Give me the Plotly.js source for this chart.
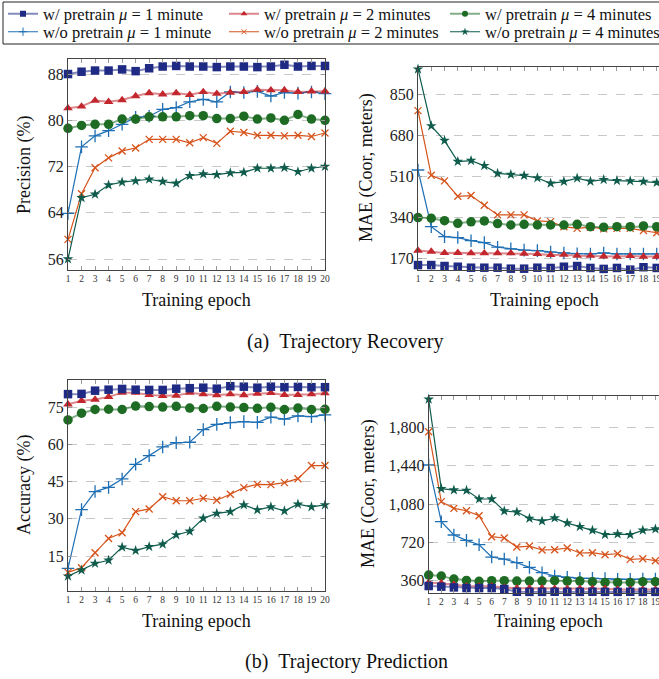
<!DOCTYPE html>
<html><head><meta charset="utf-8">
<script src="https://cdn.plot.ly/plotly-3.0.1.min.js"></script>
<style>html,body{margin:0;padding:0;overflow:hidden;background:#fff}#chart{width:700px;height:679px}</style>
</head><body><div id="chart"></div>
<script>
const epochs = [1,2,3,4,5,6,7,8,9,10,11,12,13,14,15,16,17,18,19,20];
const seriesNames = ['w/ pretrain <i>μ</i> = 1 minute','w/ pretrain <i>μ</i> = 2 minutes','w/ pretrain <i>μ</i> = 4 minutes',
  'w/o pretrain <i>μ</i> = 1 minute','w/o pretrain <i>μ</i> = 2 minutes','w/o pretrain <i>μ</i> = 4 minutes'];

// (a) Trajectory Recovery - Precision (%)
const rp_w1 = [88.0,88.4,88.6,88.6,88.8,88.5,89.0,89.3,89.4,89.3,89.3,89.2,89.3,89.3,89.2,89.3,89.6,89.3,89.4,89.4];
const rp_w2 = [82.1,82.4,83.4,83.2,83.5,84.2,84.7,84.5,84.7,84.4,84.9,84.6,84.8,84.9,85.3,85.2,85.2,84.9,85.0,85.0];
const rp_w4 = [78.6,79.1,79.3,79.3,80.2,80.2,80.6,80.6,80.6,80.8,80.8,80.3,80.3,80.7,80.2,80.4,80.0,81.0,80.2,80.0];
const rp_o1 = [63.9,75.4,77.3,78.2,79.3,80.5,80.7,81.9,82.2,83.2,83.6,83.2,84.9,84.8,85.0,84.2,84.8,84.7,84.9,84.6];
const rp_o2 = [59.4,67.3,71.8,73.5,74.7,75.2,76.7,76.7,76.7,76.1,77.0,76.0,78.1,77.9,77.4,77.4,77.3,77.4,77.2,77.8];
const rp_o4 = [56.0,66.6,67.2,68.8,69.3,69.5,69.8,69.4,69.1,70.4,70.7,70.6,70.9,71.0,71.7,71.7,71.8,71.1,71.7,72.0];

// (a) Trajectory Recovery - MAE (Coor, meters)
const rm_w1 = [142,142,138,135,131,131,131,127,127,131,130,135,138,130,126,130,123,133,130,130];
const rm_w2 = [202,198,192,193,191,191,191,191,189,188,184,185,181,181,178,177,180,177,177,177];
const rm_w4 = [339,336,326,315,321,325,314,308,311,308,308,308,311,301,299,301,301,304,301,300];
const rm_o1 = [536,301,260,256,243,235,216,209,204,202,196,192,189,188,192,188,188,188,188,188];
const rm_o2 = [782,514,491,427,430,390,350,350,350,325,322,301,294,299,292,294,294,285,276,272];
const rm_o4 = [954,719,658,571,575,554,522,517,513,503,481,488,502,489,496,492,491,488,484,483];

// (b) Trajectory Prediction - Accuracy (%)
const pa_w1 = [80.3,80.4,81.7,82.1,82.4,82.1,82.0,82.0,82.5,82.7,82.9,82.5,83.5,83.3,82.9,83.3,83.1,83.2,83.1,83.1];
const pa_w2 = [76.2,77.6,78.1,79.2,80.9,80.9,80.0,79.6,79.7,80.9,80.3,79.9,80.3,79.9,80.5,80.8,80.0,80.0,80.3,80.7];
const pa_w4 = [69.9,72.6,74.1,74.2,74.1,75.5,75.3,75.1,75.4,74.7,74.5,75.4,75.1,74.9,74.6,75.0,74.1,74.7,74.1,74.2];
const pa_o1 = [10.0,33.7,41.0,42.7,46.1,52.0,55.5,59.0,60.7,60.9,66.0,68.1,68.8,69.2,68.9,71.0,70.2,71.5,71.2,71.9];
const pa_o2 = [8.4,10.3,16.3,22.1,24.4,32.9,34.0,38.9,37.3,37.3,38.3,37.5,39.9,42.6,43.9,43.8,44.6,46.2,51.5,51.5];
const pa_o4 = [6.9,9.3,12.0,13.3,18.6,17.2,18.8,19.8,23.5,25.0,30.2,32.2,32.9,35.6,33.6,34.8,33.2,35.9,34.8,35.6];

// (b) Trajectory Prediction - MAE (Coor, meters)
const pm_w1 = [310,304,297,291,291,291,282,256,255,255,256,255,255,256,255,255,256,255,255,255];
const pm_w2 = [344,338,325,307,307,307,297,288,288,288,285,285,285,285,285,278,278,278,278,278];
const pm_w4 = [413,404,375,363,354,360,360,357,357,357,360,357,357,350,344,344,344,350,350,350];
const pm_o1 = [1446,914,789,739,698,582,563,529,485,435,404,391,382,382,379,372,372,375,375,375];
const pm_o2 = [1759,1102,1039,1017,970,773,761,676,685,648,651,667,620,623,604,613,560,566,548,545];
const pm_o4 = [2063,1224,1211,1208,1127,1127,1014,1005,945,920,948,901,867,833,792,798,792,833,845,850];

const tl_ticks = [56,64,72,80,88];
const tr_ticks = [170,340,510,680,850];
const bl_ticks = [15,30,45,60,75];
const br_ticks = [360,720,1080,1440,1800];

const FONT = 'Liberation Serif';
const W = 700, H = 679;
const px = v => v / W, py = v => 1 - v / H;

const styles = [
  {color:'#1f2a84', line:'rgba(31,42,132,0.55)', lw:2, symbol:'square', size:8.5, lsize:6},
  {color:'#c1272d', line:'rgba(193,39,45,0.55)', lw:2, symbol:'triangle-up', size:8.5, lsize:6},
  {color:'#1e6b24', line:'rgba(30,107,36,0.55)', lw:2, symbol:'circle', size:9.5, lsize:6},
  {color:'#1f6fb4', line:'#1f6fb4', lw:1.2, symbol:'cross-thin', size:9, lsize:6, thin:true},
  {color:'#d6541c', line:'#d6541c', lw:1.2, symbol:'x-thin', size:7, lsize:5, thin:true},
  {color:'#0f5c4c', line:'#0f5c4c', lw:1.2, symbol:'star', size:8, lsize:6}
];

const panels = [
  {x:'x', y:'y', data:[rp_w1,rp_w2,rp_w4,rp_o1,rp_o2,rp_o4]},
  {x:'x2', y:'y2', data:[rm_w1,rm_w2,rm_w4,rm_o1,rm_o2,rm_o4]},
  {x:'x3', y:'y3', data:[pa_w1,pa_w2,pa_w4,pa_o1,pa_o2,pa_o4]},
  {x:'x4', y:'y4', data:[pm_w1,pm_w2,pm_w4,pm_o1,pm_o2,pm_o4]}
];

const traces = [];
const order = [3,4,5,2,1,0];
panels.forEach(p => {
  order.forEach(i => {
    const s = styles[i];
    traces.push({
      type:'scatter', mode:'lines+markers', x:epochs, y:p.data[i], xaxis:p.x, yaxis:p.y,
      name:seriesNames[i], showlegend:false, cliponaxis:false, hoverinfo:'skip',
      line:{color:s.line, width:s.lw},
      marker:{symbol:s.symbol, size:s.size, color:s.color,
        line:{color:s.color, width: s.thin ? 1.3 : 0}}
    });
  });
});
// legend entries (row 1: with pretraining, row 2: without)
styles.forEach((s, i) => {
  traces.push({
    type:'scatter', mode:'lines+markers', x:[null], y:[null], xaxis:'x', yaxis:'y',
    name:seriesNames[i], showlegend:true, legend: i < 3 ? 'legend' : 'legend2',
    line:{color:s.line, width:s.lw},
    marker:{symbol:s.symbol, size:s.lsize, color:s.color, line:{color:s.color, width: s.thin ? 1 : 0}}
  });
});

function xa(l, r, anchor){
  return {domain:[px(l), px(r)], anchor:anchor, range:[1,20], tickvals:epochs, ticktext:epochs.map(String),
    ticks:'inside', ticklen:4, tickcolor:'#999', tickwidth:1, mirror:'allticks', showline:true,
    linecolor:'#444', linewidth:1, showgrid:false, zeroline:false,
    tickfont:{family:FONT, size:9.5, color:'#333'}, fixedrange:true};
}
function ya(t, b, range, ticks, anchor, fmt){
  return {domain:[py(b), py(t)], anchor:anchor, range:range, tickvals:ticks, tickformat:fmt||'',
    ticks:'inside', ticklen:4, tickcolor:'#999', tickwidth:1, mirror:'allticks', showline:true,
    linecolor:'#444', linewidth:1, showgrid:true, gridcolor:'#c8c8c8', griddash:'dash', gridwidth:1,
    zeroline:false, tickfont:{family:FONT, size:16, color:'#222'}, fixedrange:true};
}

const ann = (text, x, y, size, angle) => ({text:text, x:px(x), y:py(y), xref:'paper', yref:'paper',
  showarrow:false, xanchor:'center', yanchor:'middle', textangle:angle||0,
  font:{family:FONT, size:size, color:'#111'}});

const legendBase = {orientation:'h', x:px(3), xanchor:'left', yanchor:'middle',
    entrywidth:176, entrywidthmode:'pixels', itemwidth:30,
    borderwidth:0, bgcolor:'rgba(0,0,0,0)',
    font:{family:FONT, size:16.5, color:'#111'}, tracegroupgap:0, itemclick:false, itemdoubleclick:false};

const layout = {
  width:W, height:H, margin:{l:0,r:0,t:0,b:0,autoexpand:false}, paper_bgcolor:'#fff', plot_bgcolor:'#fff',
  showlegend:true,
  legend: Object.assign({}, legendBase, {y:py(14)}),
  legend2: Object.assign({}, legendBase, {y:py(32)}),
  shapes:[{type:'rect', xref:'paper', yref:'paper', x0:px(3), x1:px(668), y0:py(2), y1:py(44),
    line:{color:'#222', width:1}, fillcolor:'rgba(0,0,0,0)', layer:'above'}],
  xaxis: xa(68, 325, 'y'),
  yaxis: ya(59, 270, [54.1, 90.6], tl_ticks, 'x'),
  xaxis2: xa(418, 670, 'y2'),
  yaxis2: ya(67, 270, [121.5, 963], tr_ticks, 'x2'),
  xaxis3: xa(68, 325, 'y3'),
  yaxis3: ya(380, 591, [0.9, 86], bl_ticks, 'x3'),
  xaxis4: xa(428.7, 668, 'y4'),
  yaxis4: ya(396, 593, [244.5, 2094], br_ticks, 'x4', ',d'),
  annotations:[
    ann('Training epoch', 196.5, 300, 18),
    ann('Training epoch', 544, 300, 18),
    ann('Training epoch', 196.5, 621, 18),
    ann('Training epoch', 548, 621, 18),
    ann('Precision (%)', 24, 165, 18, -90),
    ann('MAE (Coor, meters)', 366, 168, 18, -90),
    ann('Accuracy (%)', 24, 485, 18, -90),
    ann('MAE (Coor, meters)', 368, 494, 18, -90),
    ann('(a)&nbsp;&nbsp;Trajectory Recovery', 345, 341, 20),
    ann('(b)&nbsp;&nbsp;Trajectory Prediction', 346, 661, 20)
  ]
};

Plotly.newPlot('chart', traces, layout, {staticPlot:true, displayModeBar:false});
</script>
</body></html>
